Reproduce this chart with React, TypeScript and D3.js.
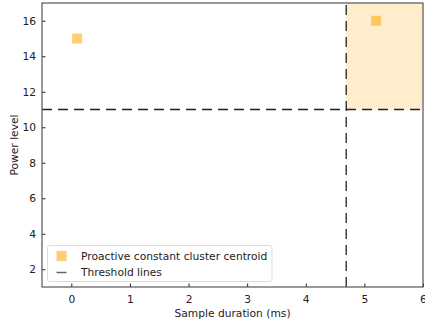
import * as d3 from "d3";
import { useEffect, useRef } from "react";

// centroid of the proactive constant cluster(s)
const centroidX = [0.1, 5.2];
const centroidY = [15, 16];

// threshold lines
const thresholdX = 4.69;
const thresholdY = 11;

const xTicks = [0, 1, 2, 3, 4, 5, 6];
const yTicks = [2, 4, 6, 8, 10, 12, 14, 16];

const legendLabels = ["Proactive constant cluster centroid", "Threshold lines"];

export default function App() {
  const ref = useRef<SVGSVGElement>(null);

  useEffect(() => {
    if (!ref.current) return;
    const svg = d3.select(ref.current);
    svg.selectAll("*").remove();

    const width = 425;
    const height = 321;
    const margin = { left: 42, right: 2, top: 3, bottom: 34 };
    const font = "DejaVu Sans, sans-serif";
    const fs = 10.7;

    const x = d3
      .scaleLinear()
      .domain([-0.5, 6])
      .range([margin.left, width - margin.right]);
    const y = d3
      .scaleLinear()
      .domain([1, 17])
      .range([height - margin.bottom, margin.top]);

    const [x0, x1] = x.range();
    const [y0, y1] = y.range();

    // shaded region past both thresholds
    svg
      .append("rect")
      .attr("x", x(thresholdX))
      .attr("y", y1)
      .attr("width", x1 - x(thresholdX))
      .attr("height", y(thresholdY) - y1)
      .attr("fill", "#ffa500")
      .attr("fill-opacity", 0.2);

    // centroid markers
    svg
      .append("g")
      .selectAll("rect")
      .data(centroidX.map((d, i) => [d, centroidY[i]]))
      .enter()
      .append("rect")
      .attr("x", (d) => x(d[0]) - 5)
      .attr("y", (d) => y(d[1]) - 5)
      .attr("width", 10)
      .attr("height", 10)
      .attr("fill", "#ffa500")
      .attr("fill-opacity", 0.55);

    // threshold lines
    svg
      .append("line")
      .attr("x1", x0)
      .attr("x2", x1)
      .attr("y1", y(thresholdY))
      .attr("y2", y(thresholdY))
      .attr("stroke", "#222")
      .attr("stroke-width", 1.3)
      .attr("stroke-dasharray", "10,6");
    svg
      .append("line")
      .attr("x1", x(thresholdX))
      .attr("x2", x(thresholdX))
      .attr("y1", y0)
      .attr("y2", y1)
      .attr("stroke", "#222")
      .attr("stroke-width", 1.3)
      .attr("stroke-dasharray", "10,6");

    // axes, ticks pointing inward
    const xAxis = svg
      .append("g")
      .attr("transform", `translate(0,${y0})`)
      .call(
        d3
          .axisBottom(x)
          .tickValues(xTicks)
          .tickSize(-3.5)
          .tickPadding(8)
          .tickFormat(d3.format("d"))
      );
    const yAxis = svg
      .append("g")
      .attr("transform", `translate(${x0},0)`)
      .call(
        d3
          .axisLeft(y)
          .tickValues(yTicks)
          .tickSize(-3.5)
          .tickPadding(6)
          .tickFormat(d3.format("d"))
      );
    [xAxis, yAxis].forEach((a) => {
      a.select(".domain").remove();
      a.selectAll("line").attr("stroke", "#222");
      a.selectAll("text")
        .attr("font-family", font)
        .attr("font-size", fs)
        .attr("fill", "#222");
    });

    // frame
    svg
      .append("rect")
      .attr("x", x0)
      .attr("y", y1)
      .attr("width", x1 - x0)
      .attr("height", y0 - y1)
      .attr("fill", "none")
      .attr("stroke", "#555")
      .attr("stroke-width", 1.2);

    // axis labels
    svg
      .append("text")
      .attr("x", (x0 + x1) / 2)
      .attr("y", 317)
      .attr("text-anchor", "middle")
      .attr("font-family", font)
      .attr("font-size", fs)
      .attr("fill", "#222")
      .text("Sample duration (ms)");
    svg
      .append("text")
      .attr("transform", `translate(18,${(y0 + y1) / 2}) rotate(-90)`)
      .attr("text-anchor", "middle")
      .attr("font-family", font)
      .attr("font-size", fs)
      .attr("fill", "#222")
      .text("Power level");

    // legend
    const lg = svg.append("g").attr("transform", "translate(47.5,245.5)");
    lg.append("rect")
      .attr("width", 224.5)
      .attr("height", 36)
      .attr("rx", 2.5)
      .attr("fill", "white")
      .attr("fill-opacity", 0.8)
      .attr("stroke", "#ddd")
      .attr("stroke-width", 1);
    lg.append("rect")
      .attr("x", 9)
      .attr("y", 5.5)
      .attr("width", 10)
      .attr("height", 10)
      .attr("fill", "#ffa500")
      .attr("fill-opacity", 0.55);
    lg.append("line")
      .attr("x1", 9)
      .attr("x2", 19)
      .attr("y1", 27)
      .attr("y2", 27)
      .attr("stroke", "#666")
      .attr("stroke-width", 1.5);
    legendLabels.forEach((t, i) => {
      lg.append("text")
        .attr("x", 33.5)
        .attr("y", 14 + i * 16.5)
        .attr("font-family", font)
        .attr("font-size", fs)
        .attr("fill", "#222")
        .text(t);
    });
  }, []);

  return (
    <svg
      ref={ref}
      width={425}
      height={321}
      style={{ position: "absolute", left: 0, top: 0, background: "white" }}
    />
  );
}
